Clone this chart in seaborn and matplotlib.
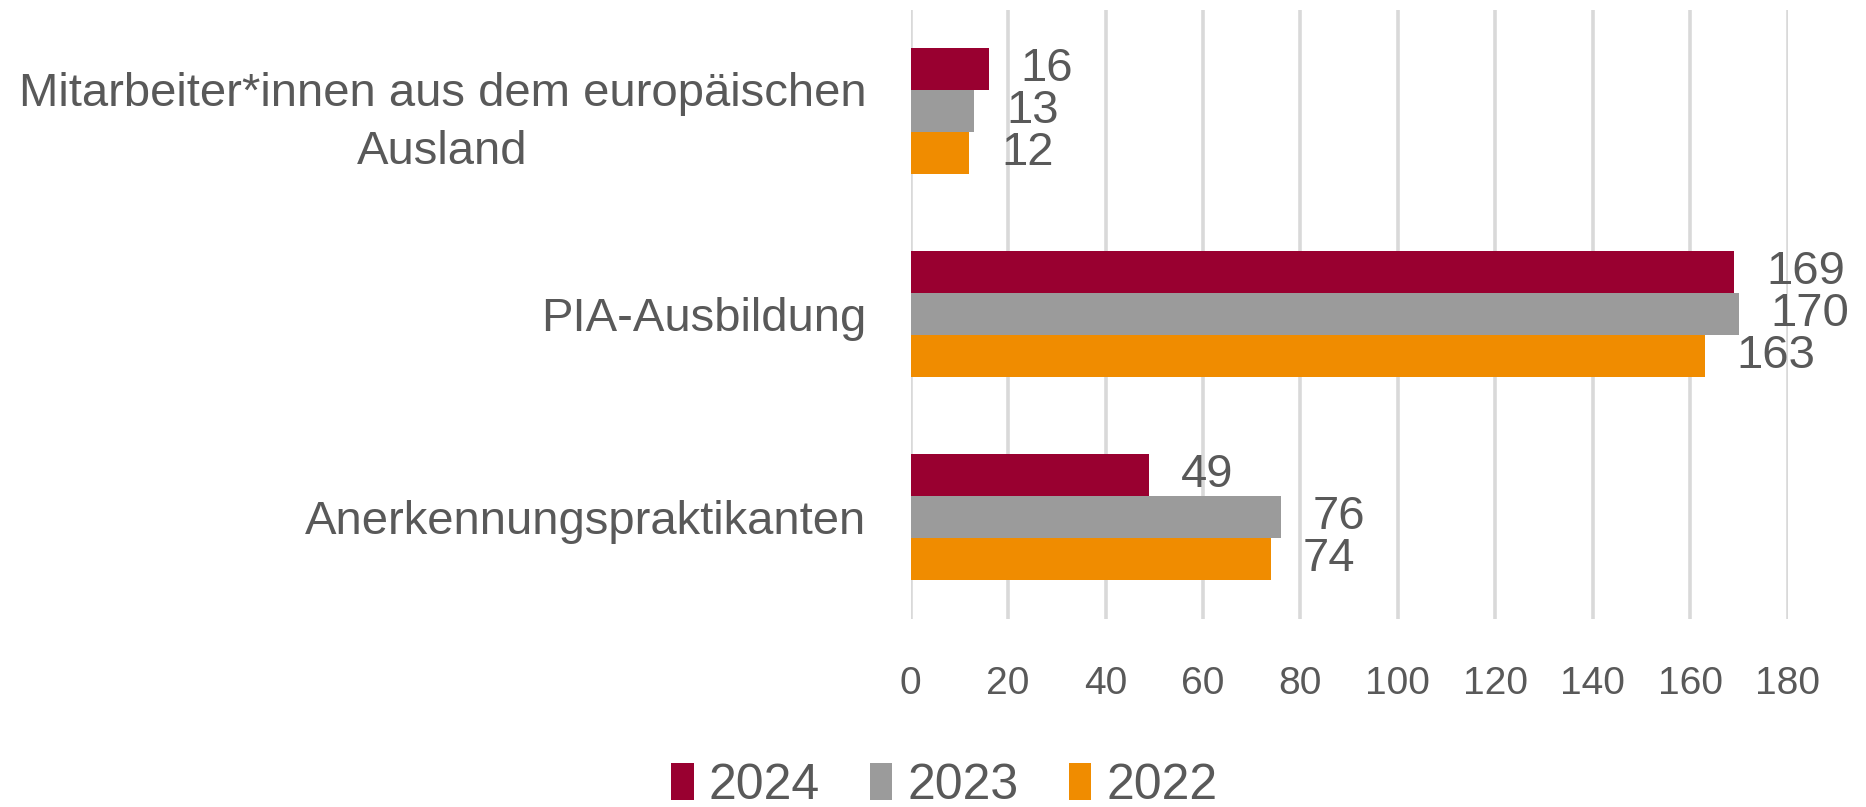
import numpy as np
import pandas as pd
import seaborn as sns
import matplotlib.pyplot as plt
from matplotlib.patches import Patch

categories = ["Mitarbeiter*innen aus dem europäischen\nAusland", "PIA-Ausbildung", "Anerkennungspraktikanten"]
years = ["2024", "2023", "2022"]
vals_2024 = [16, 169, 49]
vals_2023 = [13, 170, 76]
vals_2022 = [12, 163, 74]
x_ticks = [0, 20, 40, 60, 80, 100, 120, 140, 160, 180]
colors = ["#990030", "#9B9B9B", "#F08C00"]

df = pd.DataFrame({
    "Kategorie": categories * 3,
    "Jahr": [y for y in years for _ in categories],
    "Anzahl": vals_2024 + vals_2023 + vals_2022,
})

sns.set_style("white")
plt.rcParams["font.family"] = ["Liberation Sans", "DejaVu Sans"]
text_color = "#595959"

fig = plt.figure(figsize=(18.66, 8.07), dpi=100)
ax = fig.add_axes([0.488, 0.233, 0.470, 0.755])

sns.barplot(data=df, x="Anzahl", y="Kategorie", hue="Jahr", hue_order=years,
            palette=colors, orient="h", width=0.62, saturation=1, ax=ax, legend=False,
            linewidth=0, edgecolor="none", zorder=3)

for c in ax.containers:
    ax.bar_label(c, padding=23, fontsize=34, color=text_color, zorder=4)

ax.set_xlim(0, 180)
ax.set_xticks(x_ticks)
ax.grid(axis="x", color="#D9D9D9", linewidth=2.6, zorder=0)
ax.grid(axis="y", visible=False)
sns.despine(ax=ax, left=True, bottom=True)
ax.set_xlabel("")
ax.set_ylabel("")
ax.tick_params(axis="x", length=0, pad=34, labelsize=28, labelcolor=text_color)
ax.tick_params(axis="y", length=0, pad=32, labelsize=34, labelcolor=text_color)
for lab in ax.get_yticklabels():
    lab.set_multialignment("center")
    lab.set_linespacing(1.4)

handles = [Patch(facecolor=c, edgecolor="none") for c in colors]
fig.legend(handles, years, loc="center", bbox_to_anchor=(0.506, 0.026), ncol=3, frameon=False,
           fontsize=36, labelcolor=text_color, handlelength=0.45, handleheight=0.75,
           handletextpad=0.3, columnspacing=1.0)

fig.savefig("out.png", dpi=100)
